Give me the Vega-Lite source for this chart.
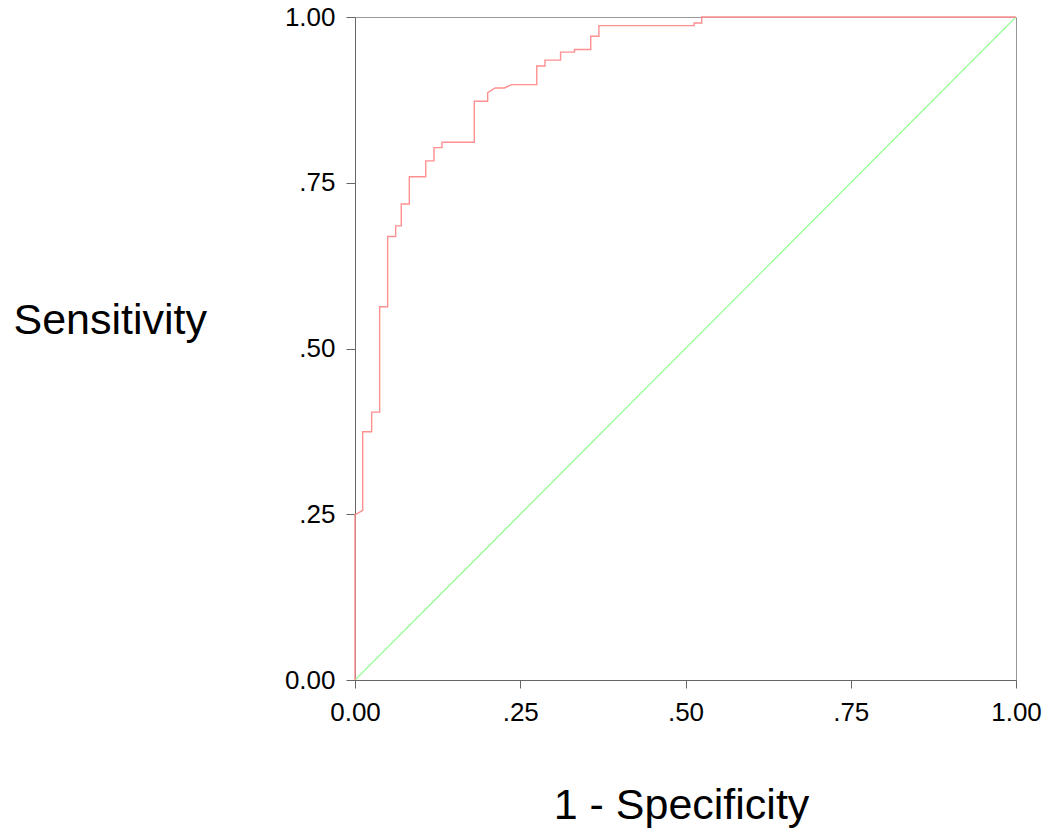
{
  "$schema": "https://vega.github.io/schema/vega-lite/v6.json",
  "autosize": "none",
  "width": 661,
  "height": 663,
  "padding": {"left": 355, "top": 17, "right": 37, "bottom": 153},
  "background": "white",
  "config": {
    "view": {"stroke": "#999999", "strokeWidth": 1},
    "axis": {
      "labelFont": "Liberation Sans",
      "titleFont": "Liberation Sans",
      "labelFontSize": 26,
      "titleFontSize": 43,
      "titleFontWeight": "normal",
      "labelColor": "#000000",
      "titleColor": "#000000",
      "domainColor": "#666666",
      "tickColor": "#666666",
      "labelFlush": false,
      "grid": false
    }
  },
  "datasets": {
    "roc": [
      {"o": 0, "fpr": 0, "sens": 0},
      {"o": 1, "fpr": 0, "sens": 0.249},
      {"o": 2, "fpr": 0.0116, "sens": 0.256},
      {"o": 3, "fpr": 0.0116, "sens": 0.3745},
      {"o": 4, "fpr": 0.0252, "sens": 0.3745},
      {"o": 5, "fpr": 0.0252, "sens": 0.404},
      {"o": 6, "fpr": 0.0373, "sens": 0.404},
      {"o": 7, "fpr": 0.0373, "sens": 0.563},
      {"o": 8, "fpr": 0.0494, "sens": 0.563},
      {"o": 9, "fpr": 0.0494, "sens": 0.669},
      {"o": 10, "fpr": 0.0615, "sens": 0.669},
      {"o": 11, "fpr": 0.0615, "sens": 0.685},
      {"o": 12, "fpr": 0.07, "sens": 0.685},
      {"o": 13, "fpr": 0.07, "sens": 0.718},
      {"o": 14, "fpr": 0.0822, "sens": 0.718},
      {"o": 15, "fpr": 0.0822, "sens": 0.759},
      {"o": 16, "fpr": 0.107, "sens": 0.759},
      {"o": 17, "fpr": 0.107, "sens": 0.783},
      {"o": 18, "fpr": 0.1195, "sens": 0.783},
      {"o": 19, "fpr": 0.1195, "sens": 0.803},
      {"o": 20, "fpr": 0.1316, "sens": 0.803},
      {"o": 21, "fpr": 0.1316, "sens": 0.811},
      {"o": 22, "fpr": 0.1805, "sens": 0.811},
      {"o": 23, "fpr": 0.1805, "sens": 0.873},
      {"o": 24, "fpr": 0.2007, "sens": 0.873},
      {"o": 25, "fpr": 0.2007, "sens": 0.886},
      {"o": 26, "fpr": 0.212, "sens": 0.893},
      {"o": 27, "fpr": 0.226, "sens": 0.893},
      {"o": 28, "fpr": 0.237, "sens": 0.898},
      {"o": 29, "fpr": 0.275, "sens": 0.898},
      {"o": 30, "fpr": 0.275, "sens": 0.926},
      {"o": 31, "fpr": 0.2874, "sens": 0.926},
      {"o": 32, "fpr": 0.2874, "sens": 0.935},
      {"o": 33, "fpr": 0.311, "sens": 0.935},
      {"o": 34, "fpr": 0.311, "sens": 0.947},
      {"o": 35, "fpr": 0.332, "sens": 0.947},
      {"o": 36, "fpr": 0.332, "sens": 0.951},
      {"o": 37, "fpr": 0.3566, "sens": 0.951},
      {"o": 38, "fpr": 0.3566, "sens": 0.971},
      {"o": 39, "fpr": 0.369, "sens": 0.971},
      {"o": 40, "fpr": 0.369, "sens": 0.987},
      {"o": 41, "fpr": 0.513, "sens": 0.987},
      {"o": 42, "fpr": 0.513, "sens": 0.991},
      {"o": 43, "fpr": 0.5245, "sens": 0.991},
      {"o": 44, "fpr": 0.5245, "sens": 1},
      {"o": 45, "fpr": 1, "sens": 1}
    ],
    "ref": [
      {"o": 0, "fpr": 0, "sens": 0},
      {"o": 1, "fpr": 1, "sens": 1}
    ]
  },
  "encoding": {
    "x": {
      "field": "fpr",
      "type": "quantitative",
      "scale": {"domain": [0, 1], "nice": false, "zero": false},
      "axis": {
        "values": [0, 0.25, 0.5, 0.75, 1],
        "labelExpr": "datum.value == 0 ? '0.00' : datum.value == 1 ? '1.00' : slice(format(datum.value, '.2f'), 1)",
        "tickSize": 8,
        "labelPadding": 11,
        "title": "1 - Specificity",
        "titleX": 326,
        "titleY": 125,
        "titleBaseline": "middle",
        "titleAlign": "center"
      }
    },
    "y": {
      "field": "sens",
      "type": "quantitative",
      "scale": {"domain": [0, 1], "nice": false, "zero": false},
      "axis": {
        "values": [0, 0.25, 0.5, 0.75, 1],
        "labelExpr": "datum.value == 0 ? '0.00' : datum.value == 1 ? '1.00' : slice(format(datum.value, '.2f'), 1)",
        "tickSize": 9,
        "labelPadding": 11,
        "title": "Sensitivity",
        "titleAngle": 0,
        "titleX": -342,
        "titleY": 303,
        "titleAlign": "left",
        "titleBaseline": "middle"
      }
    },
    "order": {"field": "o", "type": "quantitative"}
  },
  "layer": [
    {
      "data": {"name": "ref"},
      "mark": {"type": "line", "color": "#88ff88", "strokeWidth": 1.2, "clip": true}
    },
    {
      "data": {"name": "roc"},
      "mark": {"type": "line", "color": "#ff9090", "strokeWidth": 1.4, "clip": false}
    }
  ]
}
